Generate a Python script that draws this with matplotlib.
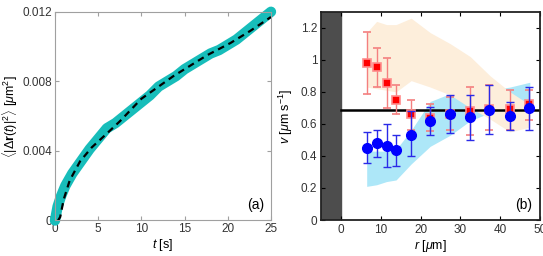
import numpy as np
import matplotlib.pyplot as plt

plt.rcParams['font.family'] = ['Liberation Sans', 'DejaVu Sans']
plt.rcParams['mathtext.fontset'] = 'custom'
plt.rcParams['mathtext.rm'] = 'Liberation Sans'
plt.rcParams['mathtext.it'] = 'Liberation Sans:italic'
plt.rcParams['mathtext.bf'] = 'Liberation Sans:bold'

# painel (a): MSD
t_msd = [0, 0.3, 0.7, 1.2, 2, 3, 4, 5, 6, 7, 8, 9, 10, 11, 12, 13, 14,
         15, 16, 17, 18, 19, 20, 21, 22, 23, 24, 25]
msd = [0, 0.0008, 0.0014, 0.0020, 0.0027, 0.0034, 0.0041, 0.0047, 0.0053,
       0.0056, 0.0060, 0.0064, 0.0068, 0.0072, 0.0077, 0.0080, 0.0083,
       0.0087, 0.0090, 0.0093, 0.0096, 0.0098, 0.0101, 0.0104, 0.0108,
       0.0112, 0.0116, 0.0120]
t_fit = [0.35, 0.6, 1.0, 1.7, 2.9, 4.25, 6.0, 7.5, 10, 13.7, 17.6, 20.3, 22.6, 25]
msd_fit = [0, 0.0002, 0.0012, 0.0023, 0.0034, 0.0042, 0.0050, 0.0057,
           0.0070, 0.0083, 0.0095, 0.0102, 0.0109, 0.0117]

# painel (b): velocidades
r = [6.4, 8.9, 11.4, 13.8, 17.6, 22.4, 27.5, 32.4, 37.3, 42.4, 47.2]
v_red = [0.98, 0.954, 0.856, 0.751, 0.662, 0.636, 0.66, 0.682, 0.69, 0.693, 0.724]
v_red_top = [1.173, 1.075, 1.01, 0.843, 0.751, 0.724, 0.766, 0.828, 0.84, 0.814, 0.814]
v_red_bot = [0.787, 0.831, 0.699, 0.659, 0.563, 0.553, 0.563, 0.532, 0.56, 0.563, 0.626]
v_blue = [0.449, 0.48, 0.465, 0.438, 0.528, 0.616, 0.664, 0.643, 0.689, 0.647, 0.699]
v_blue_top = [0.547, 0.563, 0.599, 0.532, 0.678, 0.705, 0.783, 0.783, 0.845, 0.735, 0.831]
v_blue_bot = [0.355, 0.396, 0.334, 0.340, 0.401, 0.532, 0.543, 0.501, 0.536, 0.563, 0.563]
v_mean = 0.689

r_band = [6.4, 8.9, 11.4, 13.8, 17.6, 22.4, 27.5, 32.5, 37.5, 42.5, 47.5]
orange_up = [1.17, 1.24, 1.22, 1.22, 1.26, 1.17, 1.10, 1.02, 0.90, 0.80, 0.72]
orange_lo = [0.83, 0.82, 0.81, 0.80, 0.87, 0.83, 0.78, 0.70, 0.63, 0.55, 0.58]
blue_up = [0.43, 0.43, 0.43, 0.44, 0.56, 0.74, 0.79, 0.80, 0.81, 0.83, 0.86]
blue_lo = [0.21, 0.22, 0.24, 0.25, 0.35, 0.46, 0.53, 0.62, 0.67, 0.70, 0.71]

fig = plt.figure(figsize=(5.43, 2.56), dpi=100)
ax1 = fig.add_axes([0.1013, 0.1387, 0.3977, 0.8153])
ax2 = fig.add_axes([0.592, 0.1406, 0.402, 0.8134])

##### PAINEL (a)
ax1.plot(t_msd, msd, color='#17BDBA', lw=7.5, solid_capstyle='round', clip_on=False, zorder=2)
ax1.plot(t_fit, msd_fit, '--', color='black', lw=1.6, dashes=(3, 2.2), zorder=3)
ax1.set_xlim(0, 25)
ax1.set_ylim(0, 0.012)
ax1.set_xticks([0, 5, 10, 15, 20, 25])
ax1.set_yticks([0, 0.004, 0.008, 0.012])
ax1.set_yticklabels(['0', '0.004', '0.008', '0.012'])
ax1.set_xlabel(r'$t$ [s]', fontsize=9, labelpad=1)
ax1.set_ylabel(r'$\langle|\Delta\mathbf{r}(t)|^2\rangle$ [$\mu$m$^2$]', fontsize=9, labelpad=2)
ax1.text(0.97, 0.04, '(a)', transform=ax1.transAxes, ha='right', va='bottom', fontsize=10)
for s in ax1.spines.values():
    s.set_color('#a0a0a0')
    s.set_linewidth(0.8)
ax1.tick_params(direction='in', top=True, right=True, labelsize=8.5, length=3,
                color='#a0a0a0', labelcolor='#333333', pad=2)

##### PAINEL (b)
ax2.axvspan(-5, 0, color='#4d4d4d', zorder=0)
ax2.fill_between(r_band, blue_lo, blue_up, color='#ade7f8', lw=0, zorder=1)
ax2.fill_between(r_band, orange_lo, orange_up, color='#fdeedb', lw=0, zorder=1.5)
ax2.plot([0, 50], [v_mean, v_mean], color='black', lw=1.8, zorder=2)

vr = np.array(v_red)
vb = np.array(v_blue)
ax2.errorbar(r, v_red, yerr=[vr - np.array(v_red_bot), np.array(v_red_top) - vr],
             fmt='s', color='#f47f7f', ecolor='#f47f7f', elinewidth=1, capsize=3,
             capthick=1, markersize=5.5, markerfacecolor='red', markeredgecolor='#ff8c8c',
             markeredgewidth=1.2, zorder=3)
ax2.errorbar(r, v_blue, yerr=[vb - np.array(v_blue_bot), np.array(v_blue_top) - vb],
             fmt='o', color='#2a2ae8', ecolor='#2a2ae8', elinewidth=1, capsize=3,
             capthick=1, markersize=7, markerfacecolor='blue', markeredgecolor='blue',
             zorder=4)

ax2.set_xlim(-5, 50)
ax2.set_ylim(0, 1.3)
ax2.set_xticks([0, 10, 20, 30, 40, 50])
ax2.set_yticks([0, 0.2, 0.4, 0.6, 0.8, 1.0, 1.2])
ax2.set_yticklabels(['0', '0.2', '0.4', '0.6', '0.8', '1', '1.2'])
ax2.set_xlabel(r'$r$ [$\mu$m]', fontsize=9, labelpad=1)
ax2.set_ylabel(r'$v$ [$\mu$m s$^{-1}$]', fontsize=9, labelpad=4)
ax2.text(0.965, 0.04, '(b)', transform=ax2.transAxes, ha='right', va='bottom', fontsize=10)
for s in ax2.spines.values():
    s.set_color('#222222')
    s.set_linewidth(1.3)
ax2.tick_params(direction='in', top=True, right=True, labelsize=8.5, length=3,
                labelcolor='#333333', pad=3)

fig.savefig('out.png', dpi=100)
